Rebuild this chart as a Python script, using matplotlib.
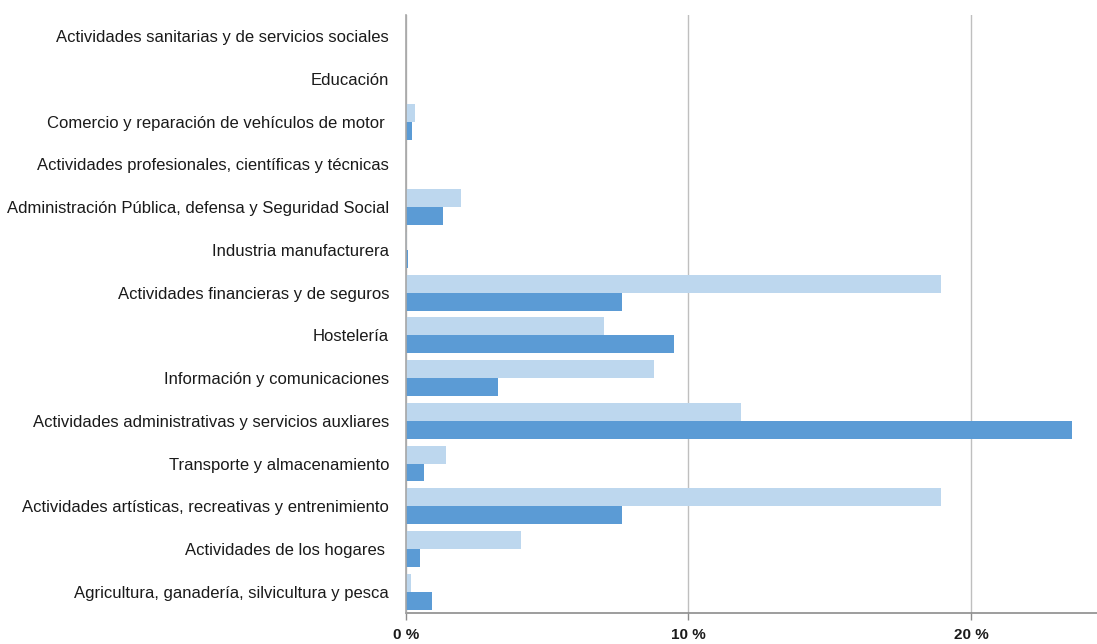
import numpy as np
import matplotlib.pyplot as plt

plt.rcParams['font.family'] = ['Liberation Sans', 'DejaVu Sans']

# Sectors, top to bottom
sectores = [
    'Actividades sanitarias y de servicios sociales',
    'Educación',
    'Comercio y reparación de vehículos de motor ',
    'Actividades profesionales, científicas y técnicas',
    'Administración Pública, defensa y Seguridad Social',
    'Industria manufacturera',
    'Actividades financieras y de seguros',
    'Hostelería',
    'Información y comunicaciones',
    'Actividades administrativas y servicios auxliares',
    'Transporte y almacenamiento',
    'Actividades artísticas, recreativas y entrenimiento',
    'Actividades de los hogares ',
    'Agricultura, ganadería, silvicultura y pesca',
]

# Percentages (%) for the two series
serie_clara = [0.0, 0.0, 0.33, 0.0, 1.96, 0.05, 18.95, 7.02, 8.77, 11.86, 1.42, 18.95, 4.06, 0.19]
serie_oscura = [0.0, 0.0, 0.23, 0.0, 1.31, 0.09, 7.64, 9.48, 3.26, 23.56, 0.63, 7.64, 0.50, 0.92]

color_claro = '#BDD7EE'
color_oscuro = '#5B9BD5'

fig = plt.figure(figsize=(10.97, 6.44), dpi=100)
ax = fig.add_axes([0.370, 0.048, 0.630, 0.929])

y = np.arange(len(sectores))
h = 0.42
ax.barh(y - h / 2, serie_clara, height=h, color=color_claro, edgecolor='none', zorder=3)
ax.barh(y + h / 2, serie_oscura, height=h, color=color_oscuro, edgecolor='none', zorder=3)

ax.set_ylim(len(sectores) - 0.5, -0.5)
ax.set_xlim(0, 24.46)

ax.set_yticks(y)
ax.set_yticklabels(sectores, fontsize=12, color='#1a1a1a')
ax.tick_params(axis='y', length=0, pad=12)

ax.set_xticks([0, 10, 20])
ax.set_xticklabels(['0 %', '10 %', '20 %'], fontsize=11, color='#1a1a1a', fontweight='bold')
ax.tick_params(axis='x', length=5, width=1, color='#8C8C8C', pad=6)

ax.grid(axis='x', color='#BFBFBF', linewidth=1, zorder=0)

for side in ['top', 'right']:
    ax.spines[side].set_visible(False)
ax.spines['left'].set_color('#A6A6A6')
ax.spines['left'].set_linewidth(1.2)
ax.spines['bottom'].set_color('#8C8C8C')
ax.spines['bottom'].set_linewidth(1.2)
ax.spines['left'].set_zorder(4)

fig.savefig('out.png', dpi=100)
